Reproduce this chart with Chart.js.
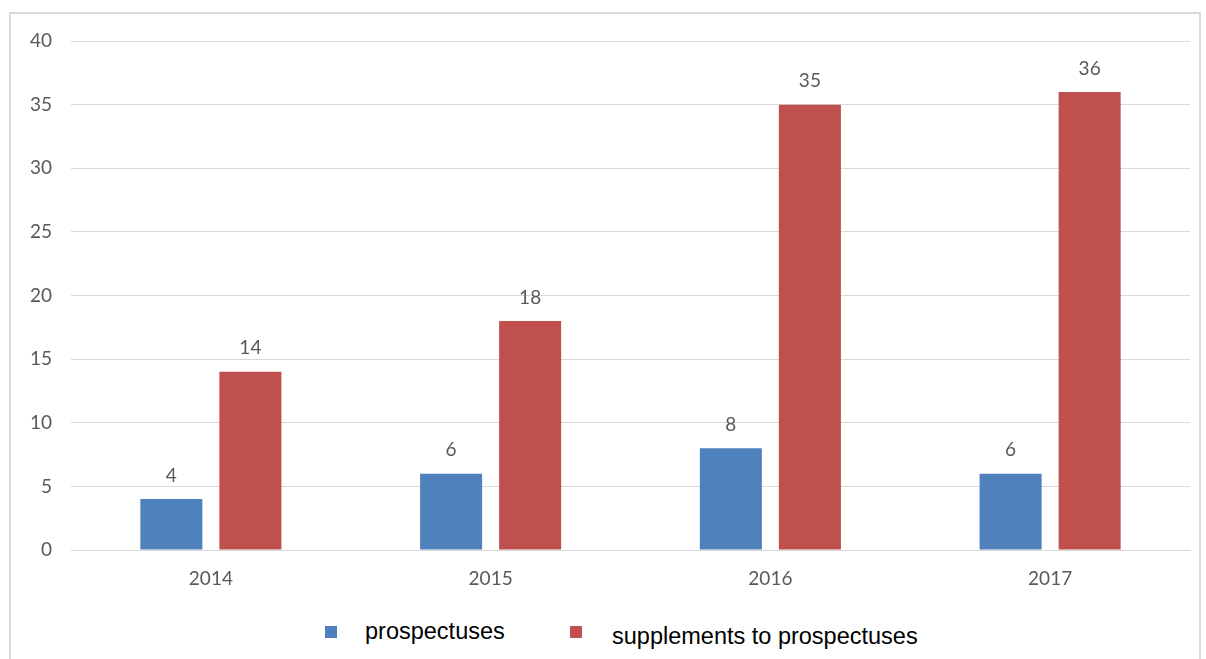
<!DOCTYPE html>
<html>
<head>
<meta charset="utf-8">
<script src="https://cdn.jsdelivr.net/npm/chart.js@4/dist/chart.umd.min.js"></script>
<style>
  html, body { margin: 0; padding: 0; background: #fff; }
  body { width: 1206px; height: 659px; position: relative; overflow: hidden; }
  #frame { position: absolute; left: 9px; top: 12px; width: 1192px; height: 700px; border: 2px solid #d9d9d9; box-sizing: border-box; }
  #wrap { position: absolute; left: 0; top: 0; width: 1206px; height: 600px; }
  #legend { position: absolute; left: 0; top: 616px; width: 1206px; height: 40px; font-family: "Liberation Sans", Arial, sans-serif; font-size: 23.5px; color: #000; }
  .box { position: absolute; width: 12px; height: 12px; top: 10px; }
  .txt { position: absolute; white-space: nowrap; }
</style>
</head>
<body>
<div id="frame"></div>
<div id="wrap"><canvas id="chart"></canvas></div>
<div id="legend"></div>
<script>
const years = ['2014', '2015', '2016', '2017'];
const prospectuses = [4, 6, 8, 6];
const supplements = [14, 18, 35, 36];
const seriesNames = ['prospectuses', 'supplements to prospectuses'];
const seriesColors = ['#4f81bd', '#c0504d'];
const yTicks = [0, 5, 10, 15, 20, 25, 30, 35, 40];

const labelColor = '#595959';
const tickFont = { family: 'Lato, "Open Sans", sans-serif', size: 19 };

// value labels above the bars
const valueLabels = {
  id: 'valueLabels',
  afterDatasetsDraw(chart) {
    const ctx = chart.ctx;
    ctx.save();
    ctx.fillStyle = labelColor;
    ctx.font = '19px Lato, "Open Sans", sans-serif';
    ctx.textAlign = 'center';
    ctx.textBaseline = 'bottom';
    chart.data.datasets.forEach((ds, i) => {
      chart.getDatasetMeta(i).data.forEach((bar, j) => {
        ctx.fillText(ds.data[j], bar.x, bar.y - 14);
      });
    });
    ctx.restore();
  }
};

new Chart(document.getElementById('chart'), {
  type: 'bar',
  data: {
    labels: years,
    datasets: [
      { label: seriesNames[0], data: prospectuses, backgroundColor: seriesColors[0] },
      { label: seriesNames[1], data: supplements, backgroundColor: seriesColors[1] }
    ]
  },
  options: {
    responsive: true,
    maintainAspectRatio: false,
    animation: false,
    categoryPercentage: 0.565,
    barPercentage: 0.785,
    layout: { padding: { top: 41, right: 16, left: 0, bottom: 0 } },
    plugins: {
      legend: { display: false },
      tooltip: { enabled: false }
    },
    scales: {
      x: {
        grid: { display: false, drawTicks: false },
        border: { display: true, color: '#d9d9d9', width: 1 },
        ticks: { color: labelColor, font: tickFont, padding: 17 },
        afterFit(scale) { scale.height = 50; }
      },
      y: {
        min: 0,
        max: 40,
        afterBuildTicks(scale) { scale.ticks = yTicks.map(v => ({ value: v })); },
        grid: { color: '#d9d9d9', lineWidth: 1, drawTicks: false },
        border: { display: false },
        ticks: { color: labelColor, font: tickFont, padding: 19 },
        afterFit(scale) { scale.width = 71; }
      }
    }
  },
  plugins: [valueLabels]
});

// legend built from the series arrays
const legend = document.getElementById('legend');
const legendX = [325, 570];
const textX = [365, 612];
const textY = [2, 7];
seriesNames.forEach((name, i) => {
  const box = document.createElement('div');
  box.className = 'box';
  box.style.left = legendX[i] + 'px';
  box.style.background = seriesColors[i];
  legend.appendChild(box);
  const t = document.createElement('div');
  t.className = 'txt';
  t.style.left = textX[i] + 'px';
  t.style.top = textY[i] + 'px';
  t.textContent = name;
  legend.appendChild(t);
});
</script>
</body>
</html>
